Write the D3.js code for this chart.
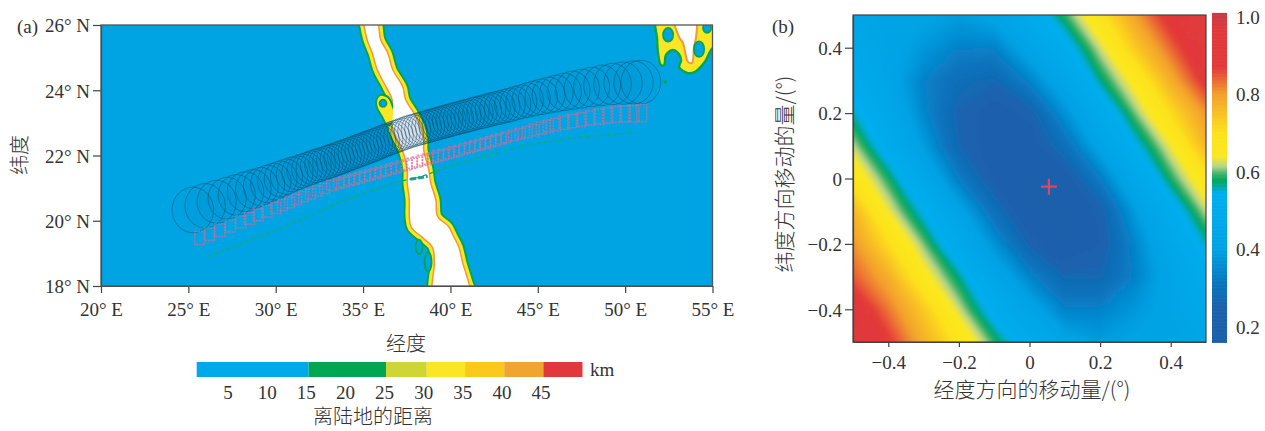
<!DOCTYPE html>
<html>
<head>
<meta charset="utf-8">
<script src="https://cdn.jsdelivr.net/npm/d3@7"></script>
<style>
body { margin: 0; background: #fff; }
text { font-family: "Liberation Serif", "Noto Sans CJK SC", serif; fill: #333; }
.cjk { font-family: "Noto Sans CJK SC", sans-serif; font-weight: 300; }
.axis path, .axis line { stroke: #444; stroke-width: 1.2; }
</style>
</head>
<body>
<svg id="chart" width="1265" height="431"></svg>
<script>
// panel (a): land strip outline, degrees
var stripLat  = [26.31, 25.94, 25.54, 25.14, 24.62, 24.10, 23.70, 23.30, 22.87, 22.48, 22.17, 21.56, 21.16, 20.64, 20.12, 19.81, 19.50, 19.20, 18.71, 18.09, 17.72];
var stripWest = [35.00, 35.11, 35.28, 35.57, 35.86, 36.37, 36.71, 36.71, 36.71, 37.00, 37.29, 37.57, 37.57, 37.69, 37.69, 37.80, 38.43, 39.00, 39.12, 39.00, 39.00];
var stripEast = [35.74, 35.86, 35.97, 36.37, 36.66, 37.23, 37.40, 37.86, 38.26, 38.43, 38.43, 38.72, 38.83, 39.12, 39.23, 39.86, 40.15, 40.43, 40.66, 41.01, 41.18];

var patchOuterLon = [51.83, 51.83, 51.88, 52.05, 52.23, 52.34, 52.69, 52.97, 53.20, 53.09, 53.54, 54.00, 54.57, 55.03, 55.50, 55.50];
var patchOuterLat = [26.46, 25.54, 25.14, 24.77, 24.77, 25.08, 25.23, 25.17, 24.93, 24.71, 24.53, 24.56, 24.87, 25.30, 25.30, 26.46];
var patchCoreLon = [52.80, 53.09, 53.31, 53.60, 53.83, 53.94, 54.06, 54.00];
var patchCoreLat = [26.31, 25.63, 25.45, 24.87, 24.84, 25.33, 25.63, 26.31];

// yellow spur beside the strip, with its hole
var spurLon = [35.74, 35.97, 36.43, 36.71, 36.83, 36.37, 36.09, 35.80];
var spurLat = [23.64, 23.85, 23.79, 23.49, 23.09, 22.94, 23.18, 23.46];
// green rimmed holes
var ringLon = [36.14, 38.20, 38.72, 52.46, 54.23, 54.69, 52.29];
var ringLat = [23.60, 19.20, 18.74, 25.70, 25.26, 25.91, 24.25];
var ringRx = [0.20, 0.20, 0.20, 0.29, 0.29, 0.23, 0.05];
var ringRy = [0.11, 0.22, 0.30, 0.21, 0.24, 0.15, 0.03];

// black footprint track
var trackLon = [25.26, 25.96, 26.62, 27.22, 27.77, 28.27, 28.72, 29.14, 29.54, 29.92, 30.28, 30.62, 30.94, 31.24, 31.52, 31.79, 32.05, 32.30, 32.54, 32.77, 32.99, 33.21, 33.42, 33.63, 33.83, 34.03, 34.23, 34.43, 34.63, 34.83, 35.03, 35.23, 35.43, 35.63, 35.83, 36.03, 36.23, 36.43, 36.63, 36.83, 37.03, 37.23, 37.43, 37.63, 37.83, 38.03, 38.23, 38.43, 38.63, 38.83, 39.03, 39.23, 39.43, 39.63, 39.83, 40.03, 40.23, 40.45, 40.67, 40.89, 41.11, 41.34, 41.57, 41.81, 42.05, 42.30, 42.55, 42.82, 43.10, 43.40, 43.72, 44.06, 44.42, 44.80, 45.20, 45.62, 46.06, 46.52, 47.00, 47.52, 48.08, 48.68, 49.28, 49.88, 50.48, 50.90];
var trackLat = [20.33, 20.46, 20.58, 20.69, 20.79, 20.89, 20.97, 21.05, 21.13, 21.20, 21.28, 21.35, 21.42, 21.47, 21.53, 21.58, 21.63, 21.68, 21.72, 21.76, 21.80, 21.84, 21.88, 21.92, 21.96, 22.00, 22.04, 22.08, 22.12, 22.16, 22.20, 22.24, 22.28, 22.32, 22.36, 22.41, 22.45, 22.49, 22.53, 22.57, 22.61, 22.65, 22.69, 22.73, 22.76, 22.79, 22.82, 22.85, 22.88, 22.91, 22.94, 22.97, 23.00, 23.03, 23.06, 23.09, 23.12, 23.15, 23.18, 23.21, 23.24, 23.28, 23.31, 23.34, 23.37, 23.41, 23.44, 23.47, 23.51, 23.55, 23.60, 23.65, 23.70, 23.75, 23.80, 23.85, 23.90, 23.95, 24.00, 24.05, 24.10, 24.15, 24.19, 24.22, 24.24, 24.25];
var radiusLon = [25.26, 31.4, 37.56, 44.0, 50.9];
var radiusLat = [0.70, 0.52, 0.50, 0.52, 0.67];

// pink track
var pinkLon = [25.66, 26.2, 26.8, 27.4, 28.0, 28.5, 29.0, 29.5, 30.0, 30.4, 30.8, 31.2, 31.6, 32.0, 32.4, 32.8, 33.2, 33.6, 33.9, 34.2, 34.5, 34.8, 35.1, 35.4, 35.7, 36.0, 36.3, 36.6, 36.9, 37.2, 37.5, 37.8, 38.1, 38.4, 38.7, 39.0, 39.3, 39.6, 39.9, 40.2, 40.5, 40.8, 41.1, 41.4, 41.7, 42.0, 42.3, 42.6, 42.9, 43.2, 43.6, 44.0, 44.4, 44.8, 45.2, 45.6, 46.0, 46.5, 47.0, 47.5, 48.0, 48.5, 49.0, 49.5, 50.0, 50.5, 50.95];
var pinkLat = [19.47, 19.59, 19.71, 19.84, 19.97, 20.07, 20.18, 20.29, 20.39, 20.48, 20.56, 20.65, 20.74, 20.82, 20.91, 20.99, 21.08, 21.14, 21.18, 21.23, 21.27, 21.31, 21.36, 21.40, 21.45, 21.49, 21.53, 21.58, 21.62, 21.67, 21.71, 21.76, 21.80, 21.85, 21.89, 21.93, 21.98, 22.02, 22.06, 22.11, 22.15, 22.20, 22.24, 22.29, 22.33, 22.37, 22.42, 22.46, 22.51, 22.55, 22.61, 22.67, 22.72, 22.78, 22.84, 22.90, 22.95, 23.00, 23.05, 23.10, 23.15, 23.19, 23.23, 23.26, 23.28, 23.29, 23.30];
var pinkSizeLon = [25.66, 33.0, 44.0, 50.95];
var pinkSizeLat = [0.20, 0.15, 0.16, 0.26];

// green track
var greenLon = [26.07, 28.2, 30.3, 32.2, 33.68, 35.5, 36.94, 38.26, 40.2, 42.27, 44.5, 47.0, 49.0, 50.4];
var greenLat = [18.89, 19.34, 19.77, 20.21, 20.57, 20.92, 21.19, 21.34, 21.72, 22.02, 22.33, 22.54, 22.63, 22.69];
var crossLon = [37.7, 38.7];
var crossLat = [21.27, 21.36];

var lonTicks = [20, 25, 30, 35, 40, 45, 50, 55];
var latTicks = [18, 20, 22, 24, 26];

// panel (a) colour bar
var kmEdges = [1, 15.3, 25.2, 30.4, 35.3, 40.3, 45.3, 50.3];
var kmColors = ["#04a9e9", "#00a651", "#cdd635", "#fbe625", "#fbc81f", "#f0a52e", "#e0393a"];
var kmTicks = [5, 10, 15, 20, 25, 30, 35, 40, 45];

// panel (b) misfit grid, rows from lat +0.5 down to -0.5, columns lon -0.5 to 0.5
var shiftLon = [-0.5, -0.4, -0.3, -0.2, -0.1, 0, 0.1, 0.2, 0.3, 0.4, 0.5];
var shiftLat = [0.5, 0.4, 0.3, 0.2, 0.1, 0, -0.1, -0.2, -0.3, -0.4, -0.5];
var misfit = [
  0.44, 0.41, 0.41, 0.39, 0.425, 0.50, 0.59, 0.69, 0.80, 0.90, 0.97,
  0.475, 0.42, 0.38, 0.34, 0.34, 0.43, 0.52, 0.625, 0.74, 0.84, 0.94,
  0.51, 0.43, 0.34, 0.29, 0.27, 0.345, 0.445, 0.57, 0.66, 0.78, 0.89,
  0.56, 0.465, 0.35, 0.26, 0.22, 0.25, 0.37, 0.49, 0.605, 0.71, 0.81,
  0.62, 0.51, 0.39, 0.27, 0.215, 0.22, 0.30, 0.42, 0.54, 0.64, 0.77,
  0.68, 0.585, 0.465, 0.33, 0.235, 0.20, 0.225, 0.33, 0.465, 0.585, 0.68,
  0.77, 0.64, 0.54, 0.42, 0.30, 0.21, 0.20, 0.25, 0.39, 0.51, 0.62,
  0.81, 0.71, 0.605, 0.49, 0.37, 0.26, 0.21, 0.24, 0.35, 0.465, 0.56,
  0.85, 0.78, 0.66, 0.57, 0.445, 0.345, 0.27, 0.27, 0.34, 0.43, 0.51,
  0.92, 0.83, 0.74, 0.625, 0.52, 0.43, 0.34, 0.34, 0.38, 0.42, 0.475,
  0.97, 0.88, 0.78, 0.69, 0.59, 0.50, 0.425, 0.39, 0.41, 0.41, 0.44
];
var misfitStops = [0.16, 0.255, 0.275, 0.31, 0.40, 0.545, 0.578, 0.595, 0.615, 0.64, 0.70, 0.80, 0.87, 0.97, 1.01];
var misfitColors = ["#1c5fab", "#1c62ae", "#126bb5", "#0a74bd", "#00a3e4", "#00aeef", "#00a65a", "#3db36c", "#b9d68a", "#fbe821", "#fde21c", "#f3a02d", "#e23a3a", "#e03a3c", "#c43a48"];
var bestLon = 0.055;
var bestLat = -0.025;
var shiftTicks = [-0.4, -0.2, 0, 0.2, 0.4];
var barTicks = [0.2, 0.4, 0.6, 0.8, 1.0];

var svg = d3.select("#chart");

var defs = svg.append("defs");
defs.append("filter").attr("id", "soft")
  .append("feGaussianBlur").attr("stdDeviation", 0.6);
defs.append("filter").attr("id", "softer")
  .append("feGaussianBlur").attr("stdDeviation", 2);

// ---------- panel (a) ----------
var ax = d3.scaleLinear().domain([20, 55]).range([101, 712.5]);
var ay = d3.scaleLinear().domain([18, 26]).range([286, 25]);

svg.append("clipPath").attr("id", "clipa").append("rect")
  .attr("x", ax(20)).attr("y", ay(26))
  .attr("width", ax(55) - ax(20)).attr("height", ay(18) - ay(26));

var pa = svg.append("g").attr("clip-path", "url(#clipa)");

pa.append("rect")
  .attr("x", ax(20)).attr("y", ay(26))
  .attr("width", ax(55) - ax(20)).attr("height", ay(18) - ay(26))
  .attr("fill", "#00a4e2");

var land = pa.append("g").attr("filter", "url(#soft)");

var stripPts = stripLat.map(function(d, i) { return [stripWest[i], d]; })
  .concat(stripLat.map(function(d, i) { return [stripEast[i], d]; }).reverse());
var outline = d3.line()
  .x(function(d) { return ax(d[0]); })
  .y(function(d) { return ay(d[1]); })
  .curve(d3.curveCatmullRomClosed.alpha(0.5));
var stripPath = outline(stripPts);

var bands = [["#00a651", 13], ["#fbe625", 9], ["#ee9a3a", 3]];
bands.forEach(function(b) {
  land.append("path").attr("d", stripPath).attr("fill", "none")
    .attr("stroke", b[0]).attr("stroke-width", b[1]).attr("stroke-linejoin", "round");
});

var spur = spurLon.map(function(d, i) { return [d, spurLat[i]]; });
land.append("path").attr("d", outline(spur)).attr("fill", "#fbe625")
  .attr("stroke", "#00a651").attr("stroke-width", 2).attr("stroke-linejoin", "round");

land.append("path").attr("d", stripPath).attr("fill", "#fff");

var patchOuter = patchOuterLon.map(function(d, i) { return [d, patchOuterLat[i]]; });
var patchCore = patchCoreLon.map(function(d, i) { return [d, patchCoreLat[i]]; });
land.append("path").attr("d", outline(patchOuter)).attr("fill", "#fbe625")
  .attr("stroke", "#00a651").attr("stroke-width", 2.5).attr("stroke-linejoin", "round");
land.append("path").attr("d", outline(patchCore)).attr("fill", "#fff")
  .attr("stroke", "#ee9a3a").attr("stroke-width", 2).attr("stroke-linejoin", "round");

ringLon.forEach(function(d, i) {
  land.append("ellipse").attr("cx", ax(d)).attr("cy", ay(ringLat[i]))
    .attr("rx", ax(20 + ringRx[i]) - ax(20))
    .attr("ry", ay(18) - ay(18 + ringRy[i]))
    .attr("fill", "#00a4e2").attr("stroke", "#00a651").attr("stroke-width", 1.8);
});

// black footprints
var rScale = d3.scaleLinear().domain(radiusLon).range(radiusLat);
pa.append("g").selectAll("ellipse").data(trackLon).enter().append("ellipse")
  .attr("cx", function(d) { return ax(d); })
  .attr("cy", function(d, i) { return ay(trackLat[i]); })
  .attr("rx", function(d) { return ax(20 + rScale(d) * 1.7) - ax(20); })
  .attr("ry", function(d) { return ay(18) - ay(18 + rScale(d)); })
  .attr("fill", "#0a4a6c")
  .attr("fill-opacity", 0.02)
  .attr("stroke", "#0c4a6e")
  .attr("stroke-width", 0.6)
  .attr("stroke-opacity", 0.8);

// green dotted track
pa.append("path")
  .datum(greenLon.map(function(d, i) { return [d, greenLat[i]]; }))
  .attr("d", d3.line().x(function(d) { return ax(d[0]); }).y(function(d) { return ay(d[1]); }))
  .attr("fill", "none")
  .attr("stroke", "#12ad6c")
  .attr("stroke-width", 1.4)
  .attr("stroke-dasharray", "4 3");
pa.append("path")
  .datum(crossLon.map(function(d, i) { return [d, crossLat[i]]; }))
  .attr("d", d3.line().x(function(d) { return ax(d[0]); }).y(function(d) { return ay(d[1]); }))
  .attr("fill", "none")
  .attr("stroke", "#14a58c")
  .attr("stroke-width", 3)
  .attr("stroke-dasharray", "6 2");

// pink footprints
var pinkSize = d3.scaleLinear().domain(pinkSizeLon).range(pinkSizeLat);
pa.append("g").attr("filter", "url(#soft)").selectAll("rect").data(pinkLon).enter().append("rect")
  .attr("x", function(d) { return ax(d) - 5; })
  .attr("y", function(d, i) { return ay(pinkLat[i] + pinkSize(d)); })
  .attr("width", 10)
  .attr("height", function(d) { return ay(18) - ay(18 + 2 * pinkSize(d)); })
  .attr("fill", "none")
  .attr("stroke", "#dc6a96")
  .attr("stroke-width", 1.5)
  .attr("stroke-opacity", 0.7)
  .attr("stroke-dasharray", "2 1");

// axes
var axb = d3.axisBottom(ax).tickValues(lonTicks).tickSize(7).tickSizeOuter(0)
  .tickFormat(function(d) { return d + "° E"; });
var axl = d3.axisLeft(ay).tickValues(latTicks).tickSize(8).tickSizeOuter(0)
  .tickFormat(function(d) { return d + "° N"; });

var gab = svg.append("g").attr("class", "axis").attr("transform", "translate(0," + ay(18) + ")").call(axb);
gab.selectAll("text").attr("font-size", 19).attr("dy", "1.05em").style("font-family", "Liberation Serif");
var gal = svg.append("g").attr("class", "axis").attr("transform", "translate(" + ax(20) + ",0)").call(axl);
gal.selectAll("text").attr("font-size", 19).attr("dy", "0.36em").style("font-family", "Liberation Serif");

svg.append("rect")
  .attr("x", ax(20)).attr("y", ay(26))
  .attr("width", ax(55) - ax(20)).attr("height", ay(18) - ay(26))
  .attr("fill", "none").attr("stroke", "#555").attr("stroke-width", 1.3);

svg.append("text").text("(a)").attr("x", 17).attr("y", 33).attr("font-size", 19);
svg.append("text").text("经度").attr("class", "cjk").attr("x", 406).attr("y", 351)
  .attr("text-anchor", "middle").attr("font-size", 20);
svg.append("text").text("纬度").attr("class", "cjk")
  .attr("transform", "translate(27,155) rotate(-90)")
  .attr("text-anchor", "middle").attr("font-size", 20);

// km colour bar
var kx = d3.scaleLinear().domain([5, 45]).range([228, 541]);
var kmBar = svg.append("g").attr("filter", "url(#soft)");
kmColors.forEach(function(c, i) {
  kmBar.append("rect")
    .attr("x", kx(kmEdges[i])).attr("y", 362)
    .attr("width", kx(kmEdges[i + 1]) - kx(kmEdges[i])).attr("height", 15)
    .attr("fill", c);
});
svg.append("g").selectAll("text").data(kmTicks).enter().append("text")
  .text(function(d) { return d; })
  .attr("x", function(d) { return kx(d); })
  .attr("y", 399)
  .attr("text-anchor", "middle")
  .attr("font-size", 19);
svg.append("text").text("km").attr("x", 590).attr("y", 376).attr("font-size", 19);
svg.append("text").text("离陆地的距离").attr("class", "cjk").attr("x", 373).attr("y", 424)
  .attr("text-anchor", "middle").attr("font-size", 20);

// ---------- panel (b) ----------
var bx = d3.scaleLinear().domain([-0.5, 0.5]).range([853, 1206]);
var by = d3.scaleLinear().domain([-0.5, 0.5]).range([342, 15]);
var colour = d3.scaleLinear().domain(misfitStops).range(misfitColors).clamp(true);

svg.append("clipPath").attr("id", "clipb").append("rect")
  .attr("x", bx(-0.5)).attr("y", by(0.5))
  .attr("width", bx(0.5) - bx(-0.5)).attr("height", by(-0.5) - by(0.5));

var contours = d3.contours()
  .size([shiftLon.length, shiftLat.length])
  .thresholds(d3.range(0.16, 1.01, 0.005))(misfit);

// contour cells are centred on x + 0.5, so bring them back to grid coordinates
var cellToPlot = d3.geoTransform({
  point: function(x, y) {
    this.stream.point(bx(-0.5 + (x - 0.5) * 0.1), by(0.5 - (y - 0.5) * 0.1));
  }
});
var contourPath = d3.geoPath(cellToPlot);

var pb = svg.append("g").attr("clip-path", "url(#clipb)");
pb.append("g").attr("filter", "url(#softer)")
  .selectAll("path").data(contours).enter().append("path")
  .attr("d", contourPath)
  .attr("fill", function(d) { return colour(d.value); })
  .attr("stroke", function(d) { return colour(d.value); })
  .attr("stroke-width", 0.4);

pb.append("path")
  .attr("d", "M" + (bx(bestLon) - 8) + "," + by(bestLat) + "H" + (bx(bestLon) + 8)
    + "M" + bx(bestLon) + "," + (by(bestLat) - 8) + "V" + (by(bestLat) + 8))
  .attr("stroke", "#e8405f").attr("stroke-width", 2.2).attr("fill", "none");

var fmt = function(d) { return d === 0 ? "0" : d3.format(".1f")(d); };
var gbb = svg.append("g").attr("class", "axis").attr("transform", "translate(0," + by(-0.5) + ")")
  .call(d3.axisBottom(bx).tickValues(shiftTicks).tickSize(5).tickSizeOuter(0).tickFormat(fmt));
gbb.selectAll("text").attr("font-size", 19).attr("dy", "1em").style("font-family", "Liberation Serif");
var gbl = svg.append("g").attr("class", "axis").attr("transform", "translate(" + bx(-0.5) + ",0)")
  .call(d3.axisLeft(by).tickValues(shiftTicks).tickSize(8).tickSizeOuter(0).tickFormat(fmt));
gbl.selectAll("text").attr("font-size", 19).attr("dy", "0.36em").style("font-family", "Liberation Serif");

svg.append("rect")
  .attr("x", bx(-0.5)).attr("y", by(0.5))
  .attr("width", bx(0.5) - bx(-0.5)).attr("height", by(-0.5) - by(0.5))
  .attr("fill", "none").attr("stroke", "#444").attr("stroke-width", 1.2);

svg.append("text").text("(b)").attr("x", 772).attr("y", 33).attr("font-size", 19);
svg.append("text").text("经度方向的移动量/(°)").attr("class", "cjk").attr("x", 1032).attr("y", 397)
  .attr("text-anchor", "middle").attr("font-size", 21);
svg.append("text").text("纬度方向移动的量/(°)").attr("class", "cjk")
  .attr("transform", "translate(792,174) rotate(-90)")
  .attr("text-anchor", "middle").attr("font-size", 21);

// misfit colour bar
var cy = d3.scaleLinear().domain([0.2, 1.0]).range([327, 17]);
svg.append("g").selectAll("rect").data(d3.range(0.16, 1.01, 0.002)).enter().append("rect")
  .attr("x", 1212)
  .attr("y", function(d) { return cy(d) - 1; })
  .attr("width", 15)
  .attr("height", 1.4)
  .attr("fill", function(d) { return colour(d); });
svg.append("g").selectAll("text").data(barTicks).enter().append("text")
  .text(function(d) { return d3.format(".1f")(d); })
  .attr("x", 1236)
  .attr("y", function(d) { return cy(d); })
  .attr("dy", "0.36em")
  .attr("font-size", 19);
</script>
</body>
</html>
